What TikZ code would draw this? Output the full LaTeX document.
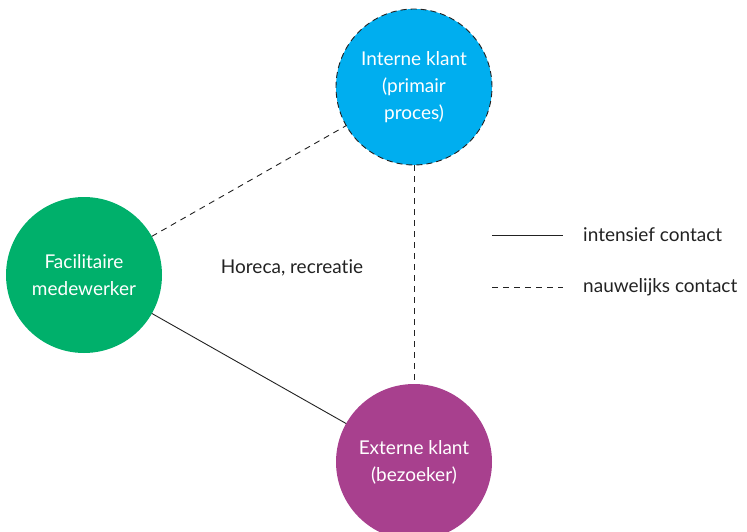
\documentclass[tikz,border=0pt]{standalone}
\usepackage{fontspec}
\setmainfont{Lato}[Ligatures=NoCommon]
\usepackage{tikz}
\usetikzlibrary{positioning}
\definecolor{KlantBlue}{HTML}{00AEEF}
\definecolor{FacGreen}{HTML}{00B06B}
\definecolor{BezoekPurple}{HTML}{A8408E}
\definecolor{LineGray}{HTML}{222222}

\begin{document}
\begin{tikzpicture}[
  x=1pt,y=-1pt,
  role/.style={circle,minimum size=156pt,inner sep=0pt,outer sep=0pt,align=center,
               text=white,font=\fontsize{19}{27}\selectfont},
  label/.style={text=LineGray,font=\fontsize{19}{27}\selectfont,inner sep=0pt},
  intens/.style={draw=LineGray,line width=0.9pt},
  weinig/.style={draw=LineGray,line width=0.9pt,dash pattern=on 6pt off 5pt}
]
  \useasboundingbox (0,0) rectangle (747,532);
  \node[role,fill=KlantBlue,draw=LineGray,line width=0.9pt,dash pattern=on 6pt off 4pt]
    (intern) at (414,87) {Interne klant\\(primair\\proces)};
  \node[role,fill=FacGreen] (fac) at (84,275) {Facilitaire\\medewerker};
  \node[role,fill=BezoekPurple] (extern) at (414,462) {Externe klant\\(bezoeker)};
  \node[label] (horeca) at (292,268) {Horeca, recreatie};
  % connectors
  \draw[weinig] (fac) -- (intern);
  \draw[weinig] (intern) -- (extern);
  \draw[intens] (fac) -- (extern);
  % legend
  \coordinate (solidA) at (492,235);
  \coordinate (solidB) at (563,235);
  \coordinate (dashA) at (492,287);
  \coordinate (dashB) at (563,287);
  \draw[intens] (solidA) -- (solidB);
  \draw[weinig] (dashA) -- (dashB);
  \node[label,anchor=west] (intensief) at (583,235) {intensief contact};
  \node[label,anchor=west] (nauwelijks) at (583,287) {nauwelijks contact};
\end{tikzpicture}
\end{document}
